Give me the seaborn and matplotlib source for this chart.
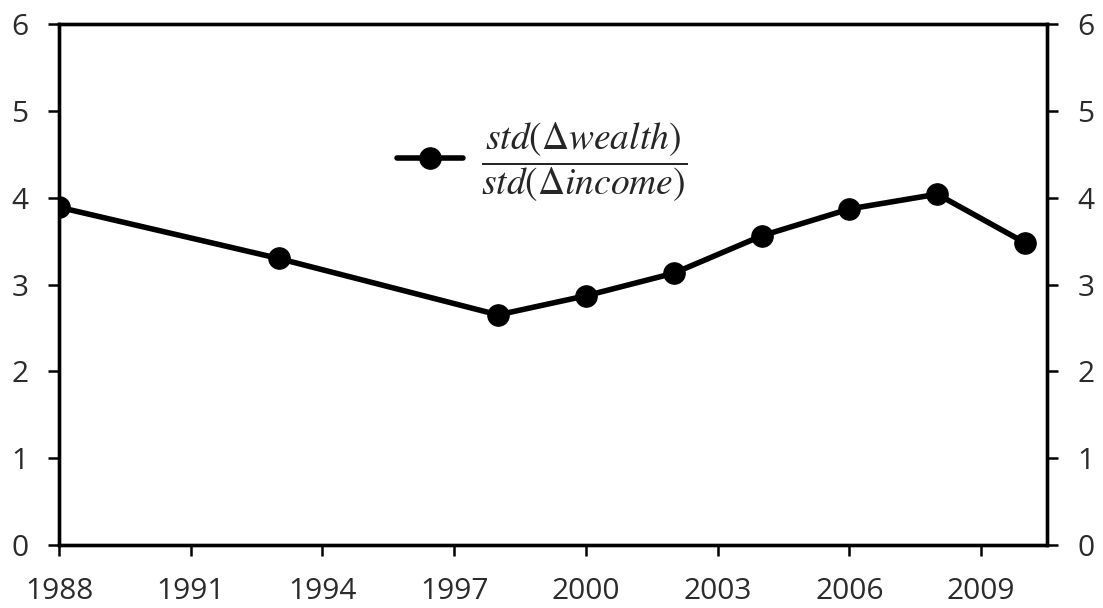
import pandas as pd
import matplotlib.pyplot as plt
import seaborn as sns

sns.set_style('ticks')
plt.rcParams['font.family'] = ['Open Sans', 'DejaVu Sans']
plt.rcParams['mathtext.fontset'] = 'stix'

years = [1988, 1993, 1998, 2000, 2002, 2004, 2006, 2008, 2010]
ratio = [3.89, 3.30, 2.65, 2.87, 3.13, 3.56, 3.87, 4.04, 3.48]
xticks = [1988, 1991, 1994, 1997, 2000, 2003, 2006, 2009]
yticks = [0, 1, 2, 3, 4, 5, 6]
label = r'$\dfrac{std(\Delta wealth)}{std(\Delta income)}$'

df = pd.DataFrame({'year': years, 'ratio': ratio})

fig = plt.figure(figsize=(11.03, 6.08), dpi=100)
ax = fig.add_axes([59 / 1103, 1 - 545 / 608, (1047 - 59) / 1103, (545 - 24) / 608])

sns.lineplot(data=df, x='year', y='ratio', ax=ax, color='black', linewidth=4,
             marker='o', markersize=15.5, markeredgecolor='black', label=label)

ax.set_xlim(1988, 2010.5)
ax.set_ylim(0, 6)
ax.set_xticks(xticks)
ax.set_yticks(yticks)
ax.set_xlabel('')
ax.set_ylabel('')
ax.tick_params(axis='both', labelsize=21.5, width=1.8, length=8, colors='black', labelcolor='#2b2b2b')
ax.tick_params(axis='x', pad=15)
ax.tick_params(axis='y', pad=14)
for s in ax.spines.values():
    s.set_linewidth(2.4)
    s.set_color('black')

ax2 = ax.twinx()
ax2.set_ylim(0, 6)
ax2.set_yticks(yticks)
ax2.tick_params(axis='y', labelsize=21.5, width=1.8, length=8, colors='black', labelcolor='#2b2b2b', pad=14)
for s in ax2.spines.values():
    s.set_linewidth(2.4)
    s.set_color('black')

leg = ax.legend(loc='center', bbox_to_anchor=(0.489, 0.735), frameon=False,
                fontsize=27, handlelength=1.75, handletextpad=0.5)

fig.savefig('out.png', dpi=100)
